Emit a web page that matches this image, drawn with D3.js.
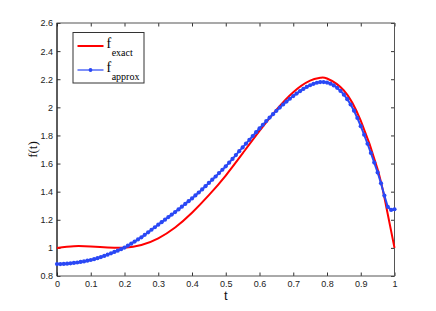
<!DOCTYPE html>
<html><head><meta charset="utf-8">
<script src="https://cdn.jsdelivr.net/npm/d3@7"></script>
<style>
html,body{margin:0;padding:0;background:#fff;}
svg{display:block;}
</style></head>
<body>
<script>
// ---- data ----
const xTicks = [0,0.1,0.2,0.3,0.4,0.5,0.6,0.7,0.8,0.9,1];
const yTicks = [0.8,1,1.2,1.4,1.6,1.8,2,2.2,2.4,2.6];
const tExact = [0,0.05,0.1,0.15,0.2,0.25,0.3,0.35,0.4,0.45,0.5,0.55,0.6,0.65,0.7,0.75,0.78,0.8,0.85,0.9,0.95,0.975,1];
const fExact = [1.000,1.012,1.010,1.003,1.001,1.020,1.068,1.145,1.250,1.375,1.515,1.672,1.832,1.982,2.108,2.190,2.210,2.205,2.120,1.905,1.560,1.300,1.000];
const tApprox = d3.range(0,101).map(i=>i/100);
const fApprox = [0.885,0.885,0.886,0.888,0.890,0.893,0.896,0.900,0.904,0.909,
 0.914,0.920,0.927,0.935,0.943,0.952,0.961,0.971,0.980,0.991,
 1.002,1.016,1.030,1.045,1.060,1.075,1.093,1.111,1.129,1.147,
 1.165,1.183,1.201,1.219,1.237,1.255,1.274,1.293,1.313,1.332,
 1.352,1.373,1.394,1.416,1.439,1.462,1.485,1.508,1.532,1.556,
 1.580,1.606,1.633,1.660,1.688,1.715,1.742,1.769,1.796,1.823,
 1.850,1.876,1.902,1.927,1.951,1.975,1.998,2.020,2.041,2.061,
 2.080,2.098,2.115,2.131,2.145,2.157,2.167,2.175,2.180,2.180,
 2.176,2.168,2.156,2.139,2.117,2.090,2.058,2.020,1.976,1.924,
 1.866,1.805,1.741,1.675,1.607,1.537,1.460,1.372,1.292,1.270,
 1.275];
const legendLabels = [{main:"f", sub:"exact"},{main:"f", sub:"approx"}];
const colors = ["#ff0000","#2a48f5"];

// ---- layout ----
const W=436,H=311;
const svg=d3.select("body").append("svg").attr("width",W).attr("height",H);
const x=d3.scaleLinear().domain([0,1]).range([57,394.5]);
const y=d3.scaleLinear().domain([0.8,2.6]).range([276,23]);
const tick=3.5;
const sans="'Liberation Sans', Arial, Helvetica, sans-serif";
const serif="'Liberation Serif','Times New Roman', serif";

function styleAxis(g,labels){
  g.select(".domain").remove();
  g.selectAll(".tick line").attr("stroke","#333");
  g.selectAll(".tick text").attr("font-family",sans).attr("font-size",9).attr("fill","#222");
  if(!labels) g.selectAll(".tick text").remove();
}
// bottom
svg.append("g").attr("transform",`translate(0,${y(0.8)})`)
 .call(d3.axisBottom(x).tickValues(xTicks).tickSizeInner(-tick).tickSizeOuter(0).tickPadding(5).tickFormat(d3.format("")))
 .call(g=>styleAxis(g,true));
// top
svg.append("g").attr("transform",`translate(0,${y(2.6)})`)
 .call(d3.axisTop(x).tickValues(xTicks).tickSizeInner(-tick).tickSizeOuter(0))
 .call(g=>styleAxis(g,false));
// left
svg.append("g").attr("transform",`translate(${x(0)},0)`)
 .call(d3.axisLeft(y).tickValues(yTicks).tickSizeInner(-tick).tickSizeOuter(0).tickPadding(4).tickFormat(d3.format("")))
 .call(g=>styleAxis(g,true));
// right
svg.append("g").attr("transform",`translate(${x(1)},0)`)
 .call(d3.axisRight(y).tickValues(yTicks).tickSizeInner(-tick).tickSizeOuter(0))
 .call(g=>styleAxis(g,false));

// box
svg.append("rect").attr("x",x(0)).attr("y",y(2.6)).attr("width",x(1)-x(0)).attr("height",y(0.8)-y(2.6))
 .attr("fill","none").attr("stroke","#555").attr("stroke-width",1);
svg.append("line").attr("x1",x(0)).attr("x2",x(0)).attr("y1",y(2.6)).attr("y2",y(0.8)).attr("stroke","#111");

// curves
const plot=svg.append("g");
plot.append("path").datum(tExact.map((t,i)=>[t,fExact[i]]))
 .attr("fill","none").attr("stroke",colors[0]).attr("stroke-width",2)
 .attr("d",d3.line().x(d=>x(d[0])).y(d=>y(d[1])).curve(d3.curveNatural));
const ap=tApprox.map((t,i)=>[t,fApprox[i]]);
plot.append("path").datum(ap)
 .attr("fill","none").attr("stroke",colors[1]).attr("stroke-width",2)
 .attr("d",d3.line().x(d=>x(d[0])).y(d=>y(d[1])));
plot.selectAll("circle.m").data(ap).enter().append("circle").attr("class","m")
 .attr("cx",d=>x(d[0])).attr("cy",d=>y(d[1])).attr("r",2.1).attr("fill",colors[1]);

// axis labels
svg.append("text").attr("x",(x(0)+x(1))/2).attr("y",300).attr("text-anchor","middle")
 .attr("font-family",sans).attr("font-size",13).attr("fill","#111").text("t");
svg.append("text").attr("transform",`translate(37,${(y(0.8)+y(2.6))/2}) rotate(-90)`).attr("text-anchor","middle")
 .attr("font-family",serif).attr("font-size",13).attr("fill","#111").text("f(t)");

// legend
const lg=svg.append("g");
lg.append("rect").attr("x",73).attr("y",32.5).attr("width",71).attr("height",50.5)
 .attr("fill","#fff").attr("stroke","#333").attr("stroke-width",1);
legendLabels.forEach((L,i)=>{
  const ly=46+i*24;
  lg.append("line").attr("x1",77.5).attr("x2",103.5).attr("y1",ly).attr("y2",ly)
   .attr("stroke",colors[i]).attr("stroke-width",i===0?2:1.6).attr("opacity",i===0?1:0.75);
  if(i===1) lg.append("circle").attr("cx",90.5).attr("cy",ly).attr("r",1.9).attr("fill",colors[1]);
  const tx=lg.append("text").attr("x",106.5).attr("y",ly+2).attr("font-family",serif).attr("fill","#000");
  tx.append("tspan").attr("font-size",14).text(L.main);
  tx.append("tspan").attr("font-size",10).attr("dy",8).attr("dx",0.5).text(L.sub);
});
</script>
</body></html>
